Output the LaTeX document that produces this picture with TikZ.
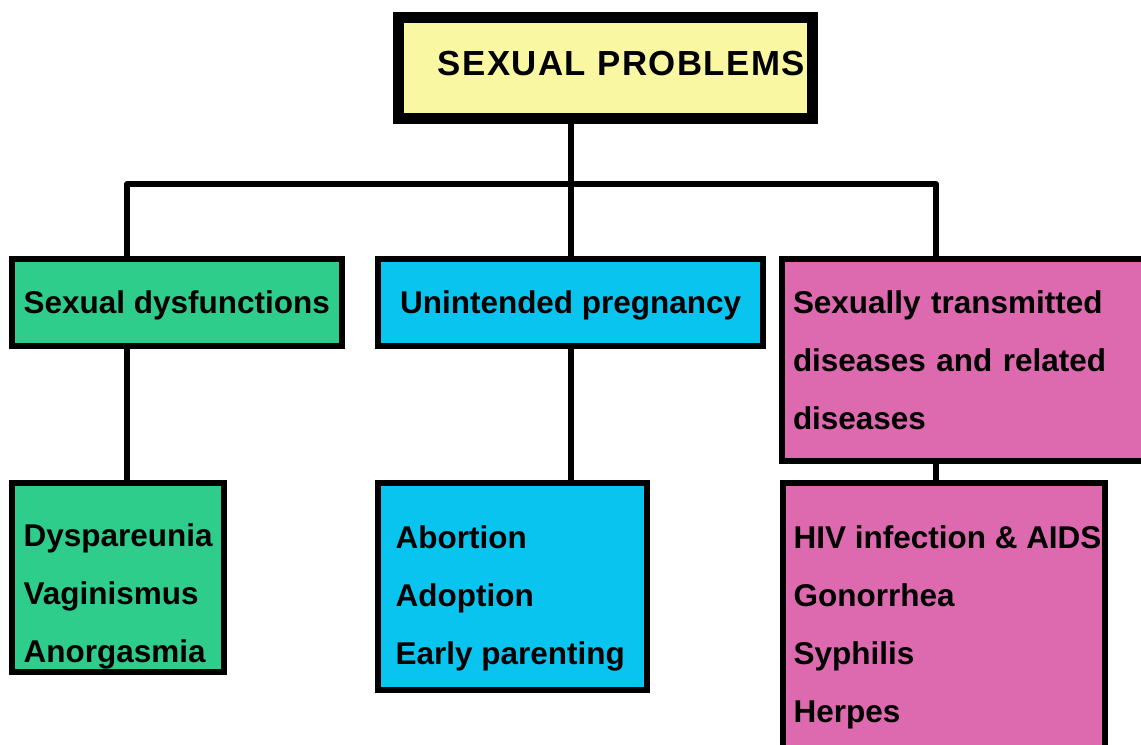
\documentclass[tikz,border=0pt]{standalone}
\usepackage{fontspec}
\setmainfont{Liberation Sans}
\usepackage{xcolor}
\usetikzlibrary{positioning}
\definecolor{pyellow}{RGB}{250,247,162}
\definecolor{pgreen}{RGB}{46,205,140}
\definecolor{pblue}{RGB}{10,196,240}
\definecolor{ppink}{RGB}{221,105,174}

\begin{document}
\begin{tikzpicture}[x=0.01cm, y=-0.01cm,
  box/.style={draw, line width=0.06cm, outer sep=auto, anchor=north west,
    font=\fontsize{8.95}{16.5}\selectfont\bfseries},
  headbox/.style={box, minimum height=0.87cm, text depth=0pt},
  listbox/.style={box, inner sep=0pt},
  listtxt/.style={anchor=north west, align=left, inner sep=0pt,
    font=\fontsize{8.95}{16.5}\selectfont\bfseries},
  link/.style={line width=0.06cm, line join=round}]
\useasboundingbox (0,0) rectangle (1141,744);

%top
 \node[box, fill=pyellow, line width=0.11cm, minimum width=4.14cm, minimum height=1.01cm,
   text width=3.98cm, inner xsep=0.08cm, align=right, text depth=0.09cm,
   font=\fontsize{9.9}{11}\selectfont\bfseries\addfontfeature{LetterSpace=4}]
   (title) at (393,12) {SEXUAL PROBLEMS};

%second row
 \node[headbox, fill=pgreen, minimum width=3.27cm] (dys) at (9,256) {Sexual dysfunctions};
 \node[headbox, fill=pblue, minimum width=3.85cm] (preg) at (375,256) {Unintended pregnancy};
 \node[box, fill=ppink, minimum width=3.70cm, minimum height=2.02cm, text width=3.48cm,
   inner xsep=0.11cm, inner ysep=0pt, align=left] (sti) at (779,256)
   {Sexually transmitted\\diseases and related\\diseases};

%third row
 \node[listbox, fill=pgreen, minimum width=2.12cm, minimum height=1.89cm] (dysl) at (9,480) {};
 \node[listbox, fill=pblue, minimum width=2.69cm, minimum height=2.07cm] (pregl) at (375,480) {};
 \node[listbox, fill=ppink, minimum width=3.22cm, minimum height=2.80cm] (stil) at (780,480) {};
 \node[listtxt] (dystxt) at ([shift={(14,43)}]dysl.north west) {Dyspareunia\\Vaginismus\\Anorgasmia};
 \node[listtxt] (pregtxt) at ([shift={(20,45)}]pregl.north west) {Abortion\\Adoption\\Early parenting};
 \node[listtxt] (stitxt) at ([shift={(13,45)}]stil.north west) {HIV infection \& AIDS\\Gonorrhea\\Syphilis\\Herpes};

%connectors
 \coordinate (jl) at (127,184);
 \coordinate (jm) at (571,184);
 \coordinate (jr) at (936,184);
 \draw[link] (dys.north -| jl) -- (jl) -- (jr) -- (sti.north -| jr);
 \draw[link] (title.south -| jm) -- (preg.north -| jm);
 \draw[link] (dys.south -| jl) -- (dysl.north -| jl);
 \draw[link] (preg.south -| jm) -- (pregl.north -| jm);
 \draw[link] (sti.south -| jr) -- (stil.north -| jr);
\end{tikzpicture}
\end{document}
